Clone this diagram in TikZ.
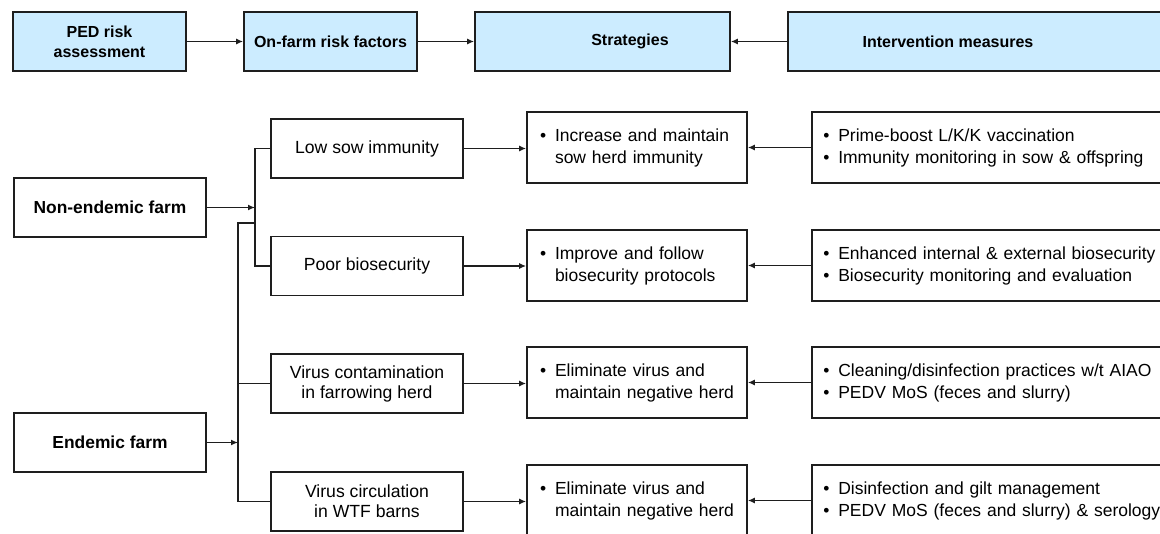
\documentclass[tikz,border=0pt]{standalone}
\usepackage{fontspec}
\setmainfont{Liberation Sans}
\usetikzlibrary{arrows.meta}
\definecolor{hdrblue}{RGB}{204,236,255}
\definecolor{edge}{RGB}{30,30,30}
\newcommand{\bodyfont}{\fontsize{17.5}{22}\selectfont}
\newcommand{\riskfont}{\fontsize{17.6}{20}\selectfont}
\newcommand{\hdrfont}{\fontsize{16}{20}\selectfont\bfseries}
\newcommand{\bl}[1]{\mbox{\makebox[15pt][l]{\textbullet}#1}}
\newcommand{\blc}[1]{\mbox{\hspace*{15pt}#1}}
\begin{document}
\begin{tikzpicture}[x=1pt,y=-1pt,
  box/.style={draw=edge,line width=1.6pt,inner sep=0pt,minimum height=59pt},
  hdr/.style={box,fill=hdrblue,font=\hdrfont,align=center},
  farm/.style={box,minimum width=192pt,font=\fontsize{17.4}{20}\selectfont\bfseries},
  risk/.style={box,minimum width=192pt,font=\riskfont,align=center},
  strat/.style={box,minimum height=71pt,inner xsep=13pt,text width=194pt,align=left,font=\bodyfont},
  interv/.style={box,minimum height=71pt,inner xsep=11.5pt,text width=360pt,align=left,font=\bodyfont},
  conn/.style={draw=edge,line width=1.4pt},
  arr/.style={conn,-{Latex[length=7pt,width=6pt]}}]
\useasboundingbox (0,0) rectangle (1160,534);
% header row
\node[hdr,minimum width=173pt] (h1) at (99.5,41.5) {PED risk\\assessment};
\node[hdr,minimum width=173pt] (h2) at (330.5,41.5) {On-farm risk factors};
\node[hdr,minimum width=255pt,label={[xshift=27.5pt,font=\hdrfont]center:Strategies}] (h3) at (602.5,41.5) {};
\node[hdr,minimum width=387pt,label={[xshift=-33.5pt,font=\hdrfont]center:Intervention measures}] (h4) at (981.5,41.5) {};
\draw[arr] (h1.east) -- (h2.west);
\draw[arr] (h2.east) -- (h3.west);
\draw[arr] (h4.west) -- (h3.east);
% farms
\node[farm] (ne) at (110,207.5) {Non-endemic farm};
\node[farm] (en) at (110,442.5) {Endemic farm};
% risk factors
\node[risk] (low) at (367,148.5) {Low sow immunity};
\node[risk] (poor) at (367,266) {Poor biosecurity};
\node[risk] (vcont) at (367,383.5) {Virus contamination\\in farrowing herd};
\node[risk] (vcirc) at (367,501.5) {Virus circulation\\in WTF barns};
% strategies
\node[strat] (s1) at (637,147.5) {\bl{Increase and maintain}\\\blc{sow herd immunity}};
\node[strat] (s2) at (637,265.5) {\bl{Improve and follow}\\\blc{biosecurity protocols}};
\node[strat] (s3) at (637,382.5) {\bl{Eliminate virus and}\\\blc{maintain negative herd}};
\node[strat] (s4) at (637,500.5) {\bl{Eliminate virus and}\\\blc{maintain negative herd}};
% interventions
\node[interv,anchor=west] (i1) at (811,147.5) {\bl{Prime-boost L/K/K vaccination}\\\bl{Immunity monitoring in sow \& offspring}};
\node[interv,anchor=west] (i2) at (811,265.5) {\bl{Enhanced internal \& external biosecurity}\\\bl{Biosecurity monitoring and evaluation}};
\node[interv,anchor=west] (i3) at (811,382.5) {\bl{Cleaning/disinfection practices w/t AIAO}\\\bl{PEDV MoS (feces and slurry)}};
\node[interv,anchor=west] (i4) at (811,500.5) {\bl{Disinfection and gilt management}\\\bl{PEDV MoS (feces and slurry) \& serology}};
% junctions
\coordinate (j1) at (255,207.5);
\coordinate (j2) at (238,442.5);
\coordinate (b1) at (255,223);
\coordinate (b2) at (238,223);
\draw[arr] (ne.east) -- (j1);
\draw[arr] (en.east) -- (j2);
\draw[conn] (low.west) -| (j1) |- (poor.west);
\draw[conn] (b1) -- (b2) |- (vcirc.west);
\draw[conn] (vcont.west) -- (vcont.west -| b2);
% risk -> strategy
\draw[arr] (low.east) -- (low.east -| s1.west);
\draw[arr] (poor.east) -- (poor.east -| s2.west);
\draw[arr] (vcont.east) -- (vcont.east -| s3.west);
\draw[arr] (vcirc.east) -- (vcirc.east -| s4.west);
% intervention -> strategy
\draw[arr] (i1.west) -- (s1.east);
\draw[arr] (i2.west) -- (s2.east);
\draw[arr] (i3.west) -- (s3.east);
\draw[arr] (i4.west) -- (s4.east);
\end{tikzpicture}
\end{document}
